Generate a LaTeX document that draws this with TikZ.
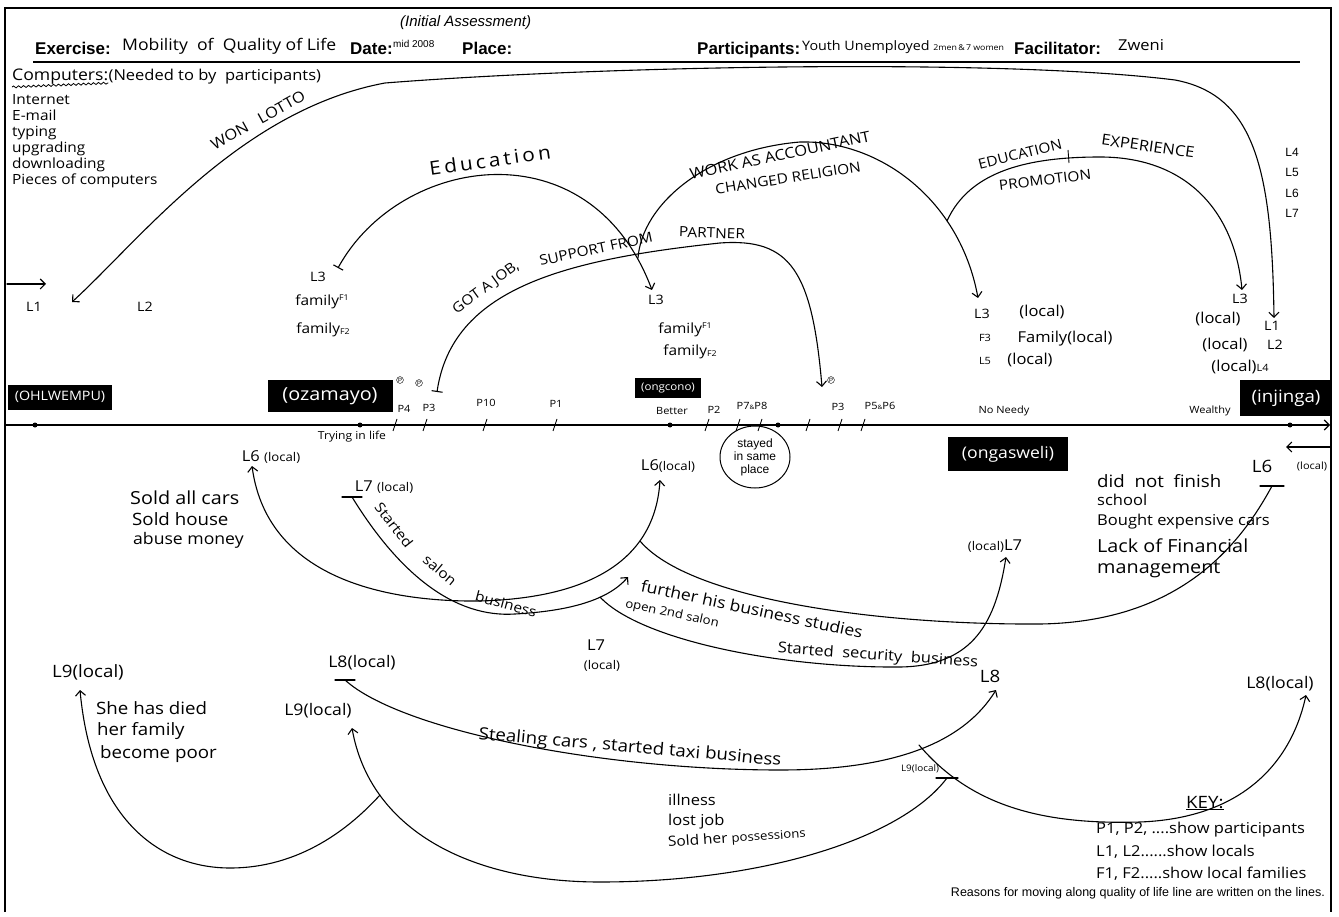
\documentclass[tikz,border=0pt]{standalone}
\usepackage{fontspec}
\setmainfont{Liberation Sans}
\newfontfamily\hand[FakeStretch=1.1]{Open Sans}
\usetikzlibrary{arrows.meta,shapes.geometric,decorations.pathmorphing}
\tikzset{
  barend/.tip={Bar[width=11pt,line width=1.1pt]},
  >={Straight Barb[length=5pt,width=10pt,line width=1.1pt]},
}
\newcommand{\fs}[1]{\fontsize{#1}{#1}\selectfont}
\begin{document}
\begin{tikzpicture}[x=1pt,y=-1pt,
 hw/.style={font=\hand\fontsize{14}{16}\selectfont, inner sep=0pt},
 hwb/.style={font=\hand\fontsize{15}{17}\selectfont, inner sep=0pt},
 lb/.style={font=\hand\fontsize{13}{15}\selectfont, inner sep=0pt},
 ax/.style={font=\hand\fontsize{10}{12}\selectfont, inner sep=0pt},
 hd/.style={font=\bfseries\fontsize{17}{19}\selectfont, inner sep=0pt, anchor=base west},
 blk/.style={fill=black, text=white, inner sep=0pt},
 conn/.style={line width=1.1pt, line cap=round},
 tk/.style={line width=0.9pt},
]
\useasboundingbox (0,0) rectangle (1339,917);
\fill[white] (0,0) rectangle (1339,917);
% frame
\draw[line width=2.2pt] (5,912) -- (5,8) -- (1331,8) -- (1331,912);

% header
\node[font=\itshape\fontsize{15}{17}\selectfont, inner sep=0pt, anchor=base west] (ia) at (400,27) {(Initial Assessment)};
\node[hd] (ex) at (35,55) {Exercise:};
\node[hw, anchor=base west, font=\hand\fs{16}] (exv) at (122,51) {Mobility\ \ of\ \ Quality of Life};
\node[hd] (dt) at (350,55) {Date:};
\node[font=\fontsize{10}{12}\selectfont, inner sep=0pt, anchor=base west] (dtv) at (393,48) {mid 2008};
\node[hd] (pl) at (462,55) {Place:};
\node[hd] (pa) at (697,55) {Participants:};
\node[lb, anchor=base west] (pav) at (802,51) {Youth Unemployed {\fs{8}2men\,\&\,7 women}};
\node[hd] (fa) at (1014,55) {Facilitator:};
\node[hw, anchor=base west, font=\hand\fs{15}] (fav) at (1118,51) {Zweni};
\coordinate (hdL) at (33,62); \coordinate (hdR) at (1300,62);
\draw[line width=1.6pt] (hdL) -- (hdR);

% computers list
\node[hw, anchor=base west, font=\hand\fs{16}] (comp) at (12,81) {Computers:};
\draw[line width=0.8pt, decorate, decoration={snake, amplitude=1pt, segment length=5pt}] (comp.south west) ++(0,2) -- ([yshift=2pt]comp.south east);
\node[hw, anchor=base west, font=\hand\fs{15}] (need) at (comp.base east) {(Needed\ to\ by\ \ participants)};
\node[hw, anchor=north west, align=left, font=\hand\fontsize{14}{16}\selectfont] (list) at (12,94) {Internet\\E-mail\\typing\\upgrading\\downloading\\Pieces of computers};

% left small arrow and L1 L2
\coordinate (lsA) at (7,284); \coordinate (lsB) at (46,284);
\draw[conn,->] (lsA) -- (lsB);
\node[lb] (l1) at (34,307) {L1};
\node[lb] (l2) at (145,307) {L2};

% WON LOTTO arc
\coordinate (lotA) at (72,302);
\coordinate (lotB) at (1274,318);
\draw[conn,<->] (lotA) .. controls (140,240) and (240,110) .. (385,83) .. controls (600,66) and (1000,58) .. (1175,80) .. controls (1255,95) and (1272,170) .. (lotB);
\node[hw, rotate=29, font=\hand\fs{15}] (wl) at (258,120) {WON\ \ \ LOTTO};
\foreach \n/\t/\y in {l4/L4/152,l5/L5/172,l6/L6/193,l7/L7/213}
  \node[font=\fontsize{12}{14}\selectfont, inner sep=0pt] (\n) at (1292,\y) {\t};

% Education arc
\coordinate (edA) at (338,268); \coordinate (edB) at (652,290);
\draw[conn,barend->] (edA) .. controls (400,155) and (590,125) .. (edB);
\node[hw, rotate=8, font=\hand\fs{19}] (edl) at (490,160) {E\,d\,u\,c\,a\,t\,i\,o\,n};

% WORK AS ACCOUNTANT arc
\coordinate (wkA) at (638,258); \coordinate (wkB) at (978,298);
\draw[conn,->] (wkA) .. controls (642,205) and (705,150) .. (800,142) .. controls (880,140) and (960,200) .. (wkB);
\node[hw, rotate=12, font=\hand\fs{15}] (wkl) at (780,155) {WORK\ AS\ ACCOUNTANT};
\node[hw, rotate=9] (chl) at (788,178) {CHANGED RELIGION};

% EDUCATION | EXPERIENCE arc
\coordinate (prA) at (947,221); \coordinate (prB) at (1242,290);
\draw[conn,->] (prA) .. controls (970,170) and (1030,157) .. (1100,157) .. controls (1190,157) and (1235,215) .. (prB);
\node[hw, rotate=14] (edu2) at (1020,154) {EDUCATION};
\coordinate (tkA) at (1068,150); \coordinate (tkB) at (1069,163);
\draw[tk] (tkA) -- (tkB);
\node[hw, rotate=-8, font=\hand\fs{15}] (exp) at (1148,146) {EXPERIENCE};
\node[hw, rotate=7] (prom) at (1045,180) {PROMOTION};

% GOT A JOB arc
\coordinate (gjA) at (437,392); \coordinate (gjB) at (822,387);
\draw[conn,barend->] (gjA) .. controls (452,290) and (560,260) .. (720,243) .. controls (790,238) and (812,270) .. (gjB);
\node[hw, rotate=36] (gj1) at (486,288) {GOT A JOB,};
\node[hw, rotate=12] (gj2) at (596,249) {SUPPORT FROM};
\node[hw, rotate=-2] (gj3) at (712,233) {PARTNER};
\node[circle, draw, inner sep=0.4pt, font=\fs{6}] (cp1) at (400,380) {P};
\node[circle, draw, inner sep=0.4pt, font=\fs{6}] (cp2) at (419,383) {P};
\node[circle, draw, inner sep=0.4pt, font=\fs{6}] (cp3) at (831,380) {P};

% upper labels
\node[lb] (u1) at (318,277) {L3};
\node[hw] (u2) at (322,302) {family\raisebox{5pt}{\fs{8}F1}};
\node[hw] (u3) at (323,330) {family\raisebox{-1pt}{\fs{8}F2}};
\node[lb] (m1) at (656,300) {L3};
\node[hw] (m2) at (685,330) {family\raisebox{5pt}{\fs{8}F1}};
\node[hw] (m3) at (690,352) {family\raisebox{-1pt}{\fs{8}F2}};
\node[lb] (r1) at (982,314) {L3};
\node[hw, font=\hand\fs{15}] (r2) at (1042,312) {(local)};
\node[font=\hand\fs{10}, inner sep=0pt] (r3) at (985,338) {F3};
\node[hw, font=\hand\fs{15}] (r4) at (1065,339) {Family(local)};
\node[font=\hand\fs{10}, inner sep=0pt] (r5) at (985,361) {L5};
\node[hw, font=\hand\fs{15}] (r6) at (1030,360) {(local)};
\node[lb] (w1) at (1240,299) {L3};
\node[hw, font=\hand\fs{15}] (w2) at (1218,319) {(local)};
\node[lb] (w3) at (1272,326) {L1};
\node[hw, font=\hand\fs{15}] (w4) at (1225,345) {(local)};
\node[lb] (w5) at (1275,345) {L2};
\node[hw, font=\hand\fs{15}] (w6) at (1240,367) {(local){\fs{10}L4}};

% black boxes
\node[blk, minimum width=104pt, minimum height=25pt, font=\hand\fs{13}] (ohl) at (60,397) {(OHLWEMPU)};
\node[blk, minimum width=125pt, minimum height=32pt, font=\hand\fs{18}] (oza) at (330,396) {(ozamayo)};
\node[blk, minimum width=66pt, minimum height=20pt, font=\hand\fs{10.5}] (ong) at (668,388) {(ongcono)};
\node[blk, minimum width=120pt, minimum height=34pt, font=\hand\fs{16}] (ongs) at (1008,454) {(ongasweli)};
\node[blk, minimum width=92pt, minimum height=36pt, font=\hand\fs{17}] (inj) at (1286,398) {(injinga)};

% axis
\coordinate (axL) at (5,425); \coordinate (axR) at (1330,425);
\draw[conn,->] (axL) -- (axR);
\foreach \x/\n in {35/d1,360/d2,670/d3,778/d4,1290/d5}
  \node[circle, fill, inner sep=0pt, minimum size=5pt] (\n) at (\x,425) {};
\foreach \x in {395,425,485,555,707,738,760,808,840,863}
  \draw[tk] (\x-2,431) -- (\x+2,419);
\node[ax] (p4) at (404,409) {P4};
\node[ax] (p3a) at (429,408) {P3};
\node[ax] (p10) at (486,403) {P10};
\node[ax] (p1) at (556,404) {P1};
\node[ax] (bet) at (672,411) {Better};
\node[ax] (p2) at (714,410) {P2};
\node[ax] (p78) at (752,406) {P7{\fs{6}\&}P8};
\node[ax] (p3b) at (838,407) {P3};
\node[ax] (p56) at (880,406) {P5{\fs{6}\&}P6};
\node[ax] (nn) at (1004,411) {No Needy};
\node[ax] (wea) at (1210,411) {Wealthy};
\node[ax, font=\hand\fs{11}] (try) at (352,437) {Trying in life};
\node[draw, ellipse, line width=1pt, minimum width=70pt, minimum height=62pt, align=center, font=\fontsize{12}{13}\selectfont, inner sep=0pt] (stay) at (755,457) {stayed\\in same\\place};
\coordinate (raA) at (1330,447); \coordinate (raB) at (1286,447);
\draw[conn,->] (raA) -- (raB);

% lower: L6 arcs
\coordinate (l6a) at (252,466); \coordinate (l6b) at (660,480);
\draw[conn,<->] (l6a) .. controls (268,585) and (400,602) .. (480,601) .. controls (590,598) and (655,560) .. (l6b);
\coordinate (l6br) at (640,541); \coordinate (l6c) at (1272,486);
\draw[conn] (l6br) .. controls (690,600) and (880,625) .. (1040,624) .. controls (1180,622) and (1240,545) .. (l6c);
\draw[conn] (l6c) ++(-12,0) -- ++(24,0);
\node[hw, font=\hand\fs{15}] (t1) at (271,457) {L6 {\fs{12}(local)}};
\node[hw, font=\hand\fs{15}] (t2) at (668,466) {L6{\fs{12}(local)}};
\node[hw, anchor=west, font=\hand\fs{18}] (s1) at (130,498) {Sold all cars};
\node[hw, anchor=west, font=\hand\fs{17}] (s2) at (132,519) {Sold house};
\node[hw, anchor=west, font=\hand\fs{16}] (s3) at (133,540) {abuse money};
\node[font=\hand\fs{17}, inner sep=0pt] (t3) at (1262,466) {L6};
\node[font=\hand\fs{10}, inner sep=0pt] (t4) at (1312,466) {(local)};
\node[hw, anchor=west, font=\hand\fs{17}] (d1t) at (1097,481) {did\ \ not\ \ finish};
\node[hw, anchor=west, font=\hand\fs{15}] (d2t) at (1097,500) {school};
\node[hw, anchor=west, font=\hand\fs{15}] (d3t) at (1097,522) {Bought expensive cars};
\node[hw, anchor=west, font=\hand\fs{18}] (d4t) at (1097,546) {Lack of Financial};
\node[hw, anchor=west, font=\hand\fs{18}] (d5t) at (1097,570) {management};

% salon path
\coordinate (l7a) at (352,497); \coordinate (l7b) at (628,577);
\draw[conn,->] (l7a) .. controls (400,575) and (455,618) .. (515,614) .. controls (570,611) and (608,600) .. (l7b);
\draw[conn] (l7a) ++(-10,0) -- ++(20,0);
\coordinate (l7br) at (600,597); \coordinate (l7c) at (1006,557);
\draw[conn,->] (l7br) .. controls (640,640) and (780,668) .. (900,667) .. controls (975,666) and (996,620) .. (l7c);
\node[hw, font=\hand\fs{15}] (t5) at (384,487) {L7 {\fs{12}(local)}};
\node[hw, rotate=-52] (sa1) at (394,525) {Started};
\node[hw, rotate=-40] (sa2) at (440,570) {salon};
\node[hw, rotate=-15] (sa3) at (506,604) {business};
\node[hw, font=\hand\fs{15}] (t6) at (596,645) {L7};
\node[hw, font=\hand\fs{12}] (t7) at (602,666) {(local)};
\node[hw, font=\hand\fs{15}] (t8) at (995,546) {{\fs{12}(local)}L7};
\node[hw, rotate=-12, font=\hand\fs{16}] (fu1) at (752,609) {further\ his\ business\ studies};
\node[hw, rotate=-12, font=\hand\fs{12}] (fu2) at (672,614) {open 2nd salon};
\node[hw, rotate=-4, font=\hand\fs{15}] (fu3) at (878,656) {Started\ \ security\ \ business};

% L9 paths
\coordinate (l9a) at (80,690); \coordinate (l9j) at (380,795);
\draw[conn,->] (l9j) .. controls (350,828) and (300,868) .. (230,868) .. controls (160,868) and (92,820) .. (l9a);
\coordinate (l9b) at (352,728); \coordinate (l9c) at (947,778);
\draw[conn,<-] (l9b) .. controls (370,830) and (470,882) .. (600,882) .. controls (760,882) and (900,840) .. (l9c);
\draw[conn] (l9c) ++(-11,0) -- ++(22,0);
\node[hw, font=\hand\fs{17}] (b1) at (88,672) {L9(local)};
\node[hw, anchor=west, font=\hand\fs{17}] (b2) at (96,708) {She has died};
\node[hw, anchor=west, font=\hand\fs{17}] (b3) at (97,731) {her family};
\node[hw, anchor=west, font=\hand\fs{17}] (b4) at (100,754) {become poor};
\node[hw, font=\hand\fs{16}] (b5) at (318,711) {L9(local)};
\node[font=\hand\fs{9}, inner sep=0pt] (b6) at (920,769) {L9(local)};
\node[hw, anchor=west, font=\hand\fs{15}] (i1) at (668,800) {illness};
\node[hw, anchor=west, font=\hand\fs{15}] (i2) at (668,822) {lost job};
\node[hw, anchor=west, rotate=4, font=\hand\fs{14}] (i3) at (668,843) {Sold her {\fs{12}possessions}};

% L8 paths
\coordinate (l8a) at (345,680); \coordinate (l8b) at (996,690);
\draw[conn,->] (l8a) .. controls (400,730) and (600,770) .. (780,770) .. controls (900,770) and (965,740) .. (l8b);
\draw[conn] (l8a) ++(-10,0) -- ++(20,0);
\coordinate (l8br) at (919,745); \coordinate (l8c) at (1306,695);
\draw[conn,->] (l8br) .. controls (970,805) and (1040,825) .. (1140,822) .. controls (1245,818) and (1292,760) .. (l8c);
\node[hw, font=\hand\fs{16}] (b7) at (362,663) {L8(local)};
\node[hw, rotate=-5, font=\hand\fs{17}] (st) at (630,748) {Stealing\ cars , started\ taxi\ business};
\node[font=\hand\fs{17}, inner sep=0pt] (b8) at (990,676) {L8};
\node[hw, font=\hand\fs{16}] (b9) at (1280,684) {L8(local)};

% key
\node[font=\hand\fs{17}, inner sep=0pt, anchor=base west] (key) at (1186,808) {\underline{KEY:}};
\node[font=\hand\fs{15}, inner sep=0pt, anchor=base west] (k1) at (1096,833) {P1, P2, ....show participants};
\node[font=\hand\fs{15}, inner sep=0pt, anchor=base west] (k2) at (1096,856) {L1, L2......show locals};
\node[font=\hand\fs{15}, inner sep=0pt, anchor=base west] (k3) at (1096,878) {F1, F2.....show local families};
\node[font=\fs{12.5}, inner sep=0pt, anchor=base east] (k4) at (1325,896) {Reasons for moving along quality of life line are written on the lines.};
\end{tikzpicture}
\end{document}
